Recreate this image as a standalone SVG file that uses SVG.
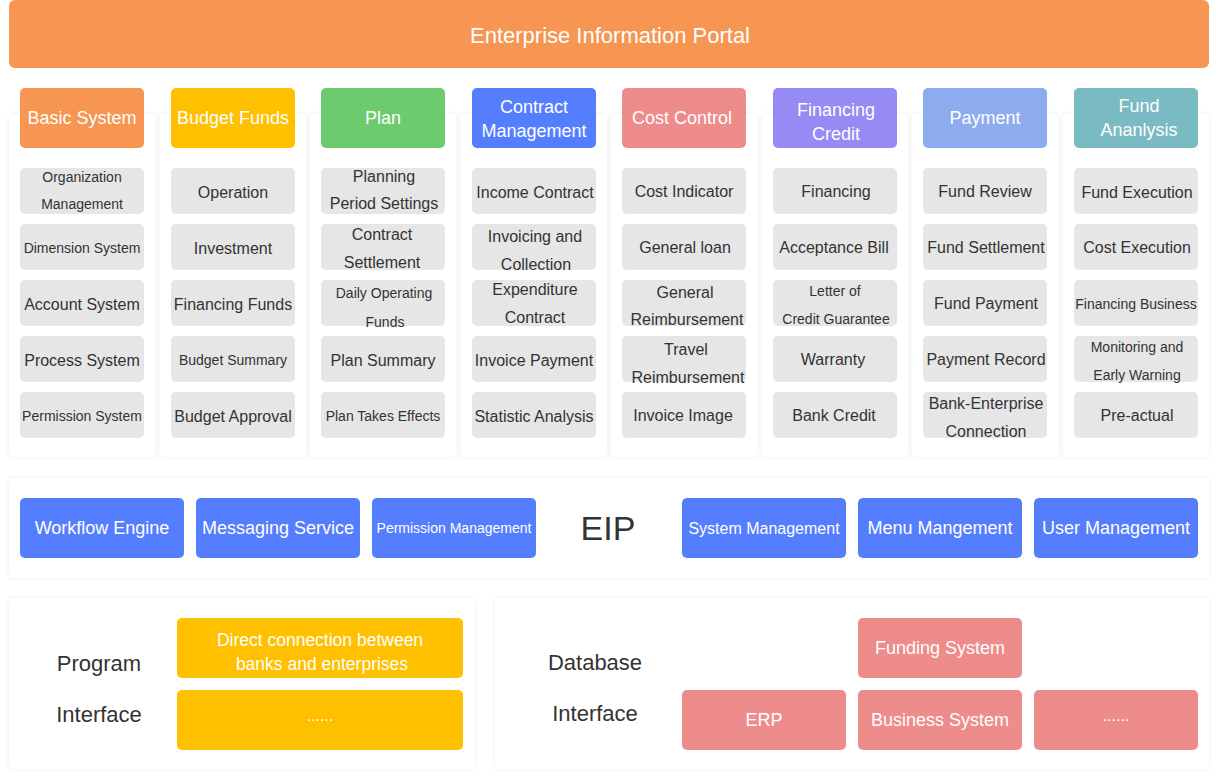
<svg xmlns="http://www.w3.org/2000/svg" width="1218" height="779" viewBox="0 0 1218 779">
<defs>
<filter id="sh" x="-10%" y="-10%" width="120%" height="120%">
<feDropShadow dx="0" dy="0" stdDeviation="2" flood-color="#000" flood-opacity="0.08"/>
</filter>
</defs>
<style>
text{font-family:"Liberation Sans",Arial,sans-serif;text-anchor:middle}
.panel{fill:#fff;filter:url(#sh)}
.hd{rx:5px}
.it{fill:#E6E6E6;rx:5px}
.ht{fill:#fff;font-size:18px}
.t16{fill:#333;font-size:16px}
.t14{fill:#333;font-size:14px}
.wt{fill:#fff;font-size:18px}
.lb{fill:#333;font-size:22px}
.blue{fill:#557EFF;rx:5px}
.yel{fill:#FFC000;rx:5px}
.pink{fill:#EE8C8C;rx:5px}
</style>
<rect width="1218" height="779" fill="#fff"/>

<g id="portal">
<rect x="9" y="0" width="1200" height="68" rx="6" fill="#F79552"/>
<text x="610" y="42.7" style="fill:#fff;font-size:22px">Enterprise Information Portal</text>
</g>

<g id="col-basic">
<rect class="panel" x="9" y="114" width="146" height="343" rx="4"/>
<rect class="hd" x="20" y="88" width="124" height="60" fill="#F79552"/>
<text class="ht" x="82" y="124.3">Basic System</text>
<rect class="it" x="20" y="168" width="124" height="46"/>
<text class="t14" x="82" y="181.9">Organization</text>
<text class="t14" x="82" y="208.9">Management</text>
<rect class="it" x="20" y="224" width="124" height="46"/>
<text class="t14" x="82" y="252.9">Dimension System</text>
<rect class="it" x="20" y="280" width="124" height="46"/>
<text class="t16" x="82" y="309.6">Account System</text>
<rect class="it" x="20" y="336" width="124" height="46"/>
<text class="t16" x="82" y="365.6">Process System</text>
<rect class="it" x="20" y="392" width="124" height="46"/>
<text class="t14" x="82" y="420.9">Permission System</text>
</g>

<g id="col-budget">
<rect class="panel" x="160" y="114" width="146" height="343" rx="4"/>
<rect class="hd" x="171" y="88" width="124" height="60" fill="#FFC000"/>
<text class="ht" x="233" y="124.3">Budget Funds</text>
<rect class="it" x="171" y="168" width="124" height="46"/>
<text class="t16" x="233" y="197.6">Operation</text>
<rect class="it" x="171" y="224" width="124" height="46"/>
<text class="t16" x="233" y="253.6">Investment</text>
<rect class="it" x="171" y="280" width="124" height="46"/>
<text class="t16" x="233" y="309.6">Financing Funds</text>
<rect class="it" x="171" y="336" width="124" height="46"/>
<text class="t14" x="233" y="364.9">Budget Summary</text>
<rect class="it" x="171" y="392" width="124" height="46"/>
<text class="t16" x="233" y="421.6">Budget Approval</text>
</g>

<g id="col-plan">
<rect class="panel" x="310" y="114" width="146" height="343" rx="4"/>
<rect class="hd" x="321" y="88" width="124" height="60" fill="#6CCB6E"/>
<text class="ht" x="383" y="124.3">Plan</text>
<rect class="it" x="321" y="168" width="124" height="46"/>
<text class="t16" x="384" y="181.6">Planning</text>
<text class="t16" x="384" y="208.6">Period Settings</text>
<rect class="it" x="321" y="224" width="124" height="46"/>
<text class="t16" x="382" y="239.6">Contract</text>
<text class="t16" x="382" y="267.6">Settlement</text>
<rect class="it" x="321" y="280" width="124" height="46"/>
<text class="t14" x="384" y="297.9">Daily Operating</text>
<text class="t14" x="385" y="326.9">Funds</text>
<rect class="it" x="321" y="336" width="124" height="46"/>
<text class="t16" x="383" y="365.6">Plan Summary</text>
<rect class="it" x="321" y="392" width="124" height="46"/>
<text class="t14" x="383" y="420.9">Plan Takes Effects</text>
</g>

<g id="col-contract">
<rect class="panel" x="461" y="114" width="146" height="343" rx="4"/>
<rect class="hd" x="472" y="88" width="124" height="60" fill="#557EFF"/>
<text class="ht" x="534" y="113.3">Contract</text>
<text class="ht" x="534" y="137.3">Management</text>
<rect class="it" x="472" y="168" width="124" height="46"/>
<text class="t16" x="535" y="197.6">Income Contract</text>
<rect class="it" x="472" y="224" width="124" height="46"/>
<text class="t16" x="535" y="241.6">Invoicing and</text>
<text class="t16" x="536" y="269.6">Collection</text>
<rect class="it" x="472" y="280" width="124" height="46"/>
<text class="t16" x="535" y="294.6">Expenditure</text>
<text class="t16" x="535" y="322.6">Contract</text>
<rect class="it" x="472" y="336" width="124" height="46"/>
<text class="t16" x="534" y="365.6">Invoice Payment</text>
<rect class="it" x="472" y="392" width="124" height="46"/>
<text class="t16" x="534" y="421.6">Statistic Analysis</text>
</g>

<g id="col-cost">
<rect class="panel" x="611" y="114" width="146" height="343" rx="4"/>
<rect class="hd" x="622" y="88" width="124" height="60" fill="#EE8C8C"/>
<text class="ht" x="682" y="124.3">Cost Control</text>
<rect class="it" x="622" y="168" width="124" height="46"/>
<text class="t16" x="684" y="196.6">Cost Indicator</text>
<rect class="it" x="622" y="224" width="124" height="46"/>
<text class="t16" x="685" y="252.6">General loan</text>
<rect class="it" x="622" y="280" width="124" height="46"/>
<text class="t16" x="685" y="297.6">General</text>
<text class="t16" x="687" y="324.6">Reimbursement</text>
<rect class="it" x="622" y="336" width="124" height="46"/>
<text class="t16" x="686" y="354.6">Travel</text>
<text class="t16" x="688" y="382.6">Reimbursement</text>
<rect class="it" x="622" y="392" width="124" height="46"/>
<text class="t16" x="683" y="420.6">Invoice Image</text>
</g>

<g id="col-financing">
<rect class="panel" x="762" y="114" width="146" height="343" rx="4"/>
<rect class="hd" x="773" y="88" width="124" height="60" fill="#968AF5"/>
<text class="ht" x="836" y="116.3">Financing</text>
<text class="ht" x="836" y="140.3">Credit</text>
<rect class="it" x="773" y="168" width="124" height="46"/>
<text class="t16" x="836" y="196.6">Financing</text>
<rect class="it" x="773" y="224" width="124" height="46"/>
<text class="t16" x="834" y="252.6">Acceptance Bill</text>
<rect class="it" x="773" y="280" width="124" height="46"/>
<text class="t14" x="835" y="295.6">Letter of</text>
<text class="t14" x="836" y="323.6">Credit Guarantee</text>
<rect class="it" x="773" y="336" width="124" height="46"/>
<text class="t16" x="833" y="364.6">Warranty</text>
<rect class="it" x="773" y="392" width="124" height="46"/>
<text class="t16" x="834" y="420.6">Bank Credit</text>
</g>

<g id="col-payment">
<rect class="panel" x="912" y="114" width="146" height="343" rx="4"/>
<rect class="hd" x="923" y="88" width="124" height="60" fill="#8CACEE"/>
<text class="ht" x="985" y="124.3">Payment</text>
<rect class="it" x="923" y="168" width="124" height="46"/>
<text class="t16" x="985" y="196.6">Fund Review</text>
<rect class="it" x="923" y="224" width="124" height="46"/>
<text class="t16" x="986" y="252.6">Fund Settlement</text>
<rect class="it" x="923" y="280" width="124" height="46"/>
<text class="t16" x="986" y="308.6">Fund Payment</text>
<rect class="it" x="923" y="336" width="124" height="46"/>
<text class="t16" x="986" y="364.6">Payment Record</text>
<rect class="it" x="923" y="392" width="124" height="46"/>
<text class="t16" x="986" y="408.6">Bank-Enterprise</text>
<text class="t16" x="986" y="436.6">Connection</text>
</g>

<g id="col-fund">
<rect class="panel" x="1063" y="114" width="146" height="343" rx="4"/>
<rect class="hd" x="1074" y="88" width="124" height="60" fill="#7ABAC2"/>
<text class="ht" x="1139" y="112.3">Fund</text>
<text class="ht" x="1139" y="136.3">Ananlysis</text>
<rect class="it" x="1074" y="168" width="124" height="46"/>
<text class="t16" x="1137" y="197.6">Fund Execution</text>
<rect class="it" x="1074" y="224" width="124" height="46"/>
<text class="t16" x="1137" y="252.6">Cost Execution</text>
<rect class="it" x="1074" y="280" width="124" height="46"/>
<text class="t14" x="1136" y="308.9">Financing Business</text>
<rect class="it" x="1074" y="336" width="124" height="46"/>
<text class="t14" x="1137" y="352.3">Monitoring and</text>
<text class="t14" x="1137" y="380.3">Early Warning</text>
<rect class="it" x="1074" y="392" width="124" height="46"/>
<text class="t16" x="1137" y="420.6">Pre-actual</text>
</g>

<g id="eip">
<rect class="panel" x="9" y="478" width="1200" height="100" rx="4"/>
<text x="608" y="540" style="fill:#333;font-size:34px">EIP</text>
</g>
<g id="workflow-engine">
<rect class="blue" x="20" y="498" width="164" height="60"/>
<text class="wt" x="102" y="534.3">Workflow Engine</text>
</g>
<g id="messaging-service">
<rect class="blue" x="196" y="498" width="164" height="60"/>
<text class="wt" x="278" y="534.3">Messaging Service</text>
</g>
<g id="permission-management">
<rect class="blue" x="372" y="498" width="164" height="60"/>
<text class="wt" x="454" y="532.9" style="font-size:14px">Permission Management</text>
</g>
<g id="system-management">
<rect class="blue" x="682" y="498" width="164" height="60"/>
<text class="wt" x="764" y="533.6" style="font-size:16px">System Management</text>
</g>
<g id="menu-management">
<rect class="blue" x="858" y="498" width="164" height="60"/>
<text class="wt" x="940" y="534.3">Menu Mangement</text>
</g>
<g id="user-management">
<rect class="blue" x="1034" y="498" width="164" height="60"/>
<text class="wt" x="1116" y="534.3">User Management</text>
</g>

<g id="program-interface">
<rect class="panel" x="9" y="598" width="466" height="171" rx="4"/>
<text class="lb" x="99" y="670.7">Program</text>
<text class="lb" x="99" y="721.7">Interface</text>
</g>
<g id="bank-direct">
<rect class="yel" x="177" y="618" width="286" height="60"/>
<text class="wt" x="320" y="646.3" style="font-size:17.5px">Direct connection between</text>
<text class="wt" x="322" y="670.3" style="font-size:17.5px">banks and enterprises</text>
</g>
<g id="program-more">
<rect class="yel" x="177" y="690" width="286" height="60"/>
<text class="wt" x="320" y="721" style="font-size:16px">......</text>
</g>

<g id="database-interface">
<rect class="panel" x="495" y="598" width="714" height="171" rx="4"/>
<text class="lb" x="595" y="669.7">Database</text>
<text class="lb" x="595" y="720.7">Interface</text>
</g>
<g id="funding-system">
<rect class="pink" x="858" y="618" width="164" height="60"/>
<text class="wt" x="940" y="654.3">Funding System</text>
</g>
<g id="erp">
<rect class="pink" x="682" y="690" width="164" height="60"/>
<text class="wt" x="764" y="726.3">ERP</text>
</g>
<g id="business-system">
<rect class="pink" x="858" y="690" width="164" height="60"/>
<text class="wt" x="940" y="726.3">Business System</text>
</g>
<g id="database-more">
<rect class="pink" x="1034" y="690" width="164" height="60"/>
<text class="wt" x="1116" y="721" style="font-size:16px">......</text>
</g>

<g id="connectors"></g>
</svg>
